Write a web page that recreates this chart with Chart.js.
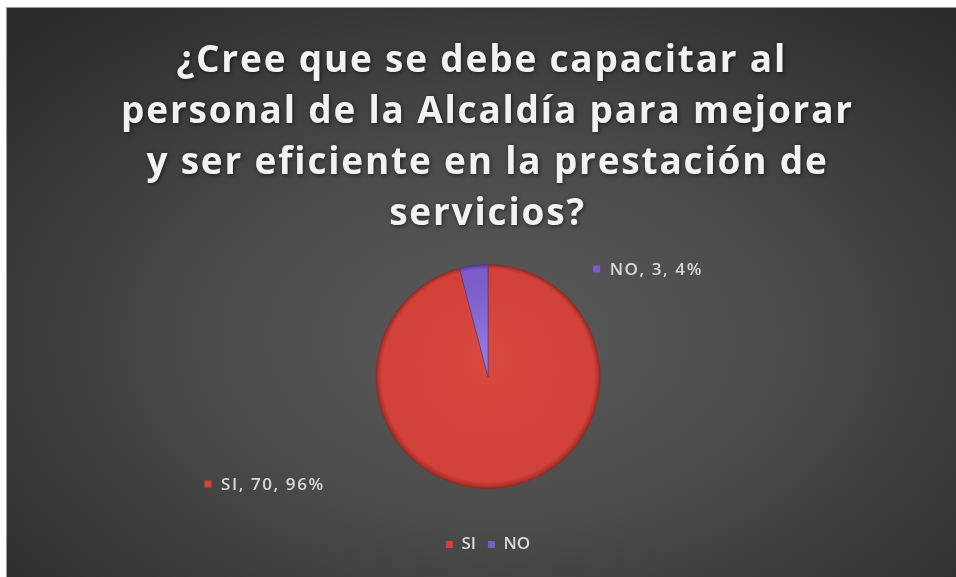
<!DOCTYPE html>
<html>
<head>
<meta charset="utf-8">
<script src="https://cdn.jsdelivr.net/npm/chart.js@4/dist/chart.umd.min.js"></script>
<style>
  html, body { margin: 0; padding: 0; background: #ffffff; }
  #frame {
    position: absolute; left: 6px; top: 7px; width: 950px; height: 570px;
    box-sizing: border-box; border-left: 1px solid #9a9a9a; border-top: 1px solid #9a9a9a;
    background: radial-gradient(ellipse 70% 75% at 52% 58%, #5b5b5b 0%, #4a4a4a 45%, #363636 80%, #2c2c2c 100%);
  }
  #wrap { position: absolute; left: 0; top: 0; width: 949px; height: 569px; }
</style>
</head>
<body>
<div id="frame"><div id="wrap"><canvas id="c"></canvas></div></div>
<script>
// Survey answers
const categories = ['SI', 'NO'];
const counts = [70, 3];
const titleLines = [
  '¿Cree que se debe capacitar al ',
  'personal de la Alcaldía para mejorar',
  'y ser eficiente en la prestación de',
  'servicios?'
];

const solidColors = ['#d2413a', '#7b5cc8'];
const rimColors = ['#9c2a24', '#553b99'];
const lightColors = ['#d8493f', '#9579dd'];

const total = counts.reduce((a, b) => a + b, 0);
const percentOf = v => Math.round(v / total * 100);

// Shaded fill for each slice: flat face with a darker rim
function sliceFill(ctx) {
  const chart = ctx.chart;
  const area = chart.chartArea;
  if (!area) return solidColors[ctx.dataIndex];
  const el = chart.getDatasetMeta(0).data[ctx.dataIndex];
  const cx = (area.left + area.right) / 2;
  const cy = (area.top + area.bottom) / 2;
  const r = el && el.outerRadius ? el.outerRadius : 112;
  const g = chart.ctx.createRadialGradient(cx, cy - r * 0.2, 0, cx, cy, r);
  const i = ctx.dataIndex;
  g.addColorStop(0, lightColors[i]);
  g.addColorStop(0.8, solidColors[i]);
  g.addColorStop(0.95, solidColors[i]);
  g.addColorStop(1, rimColors[i]);
  return g;
}

// Multi-line spaced title
const titlePlugin = {
  id: 'spacedTitle',
  beforeDraw(chart) {
    const c = chart.ctx;
    c.save();
    c.font = 'bold 37px "Open Sans"';
    c.fillStyle = '#f2f2f2';
    c.textAlign = 'center';
    c.textBaseline = 'alphabetic';
    if ('letterSpacing' in c) c.letterSpacing = '1.8px';
    c.shadowColor = 'rgba(0,0,0,0.6)';
    c.shadowBlur = 4;
    c.shadowOffsetX = 1;
    c.shadowOffsetY = 1;
    const mid = chart.width / 2 + 6;
    titleLines.forEach((line, k) => {
      c.fillText(line, mid, 64 + k * 51);
    });
    c.restore();
  }
};

// Category, value and percentage labels beside the pie
const labelOffsets = [[-2.5, 0.96], [0.97, -0.96]];
const valueLabelPlugin = {
  id: 'valueLabels',
  afterDatasetsDraw(chart) {
    const meta = chart.getDatasetMeta(0);
    const c = chart.ctx;
    c.save();
    c.font = '600 17px "Open Sans"';
    if ('letterSpacing' in c) c.letterSpacing = '1.6px';
    c.textBaseline = 'middle';
    c.textAlign = 'left';
    meta.data.forEach((arc, i) => {
      const r = arc.outerRadius;
      const x = arc.x + labelOffsets[i][0] * r;
      const y = arc.y + labelOffsets[i][1] * r;
      c.fillStyle = solidColors[i];
      c.fillRect(x - 3.5, y - 3.5, 7, 7);
      c.fillStyle = '#d9d9d9';
      c.fillText(categories[i] + ', ' + counts[i] + ', ' + percentOf(counts[i]) + '%', x + 13, y + 1);
    });
    c.restore();
  }
};

new Chart(document.getElementById('c'), {
  type: 'pie',
  data: {
    labels: categories,
    datasets: [{
      data: counts,
      backgroundColor: sliceFill,
      borderColor: ['#8e2822', '#4f3794'],
      borderWidth: 0.6,
      radius: 112
    }]
  },
  options: {
    responsive: true,
    maintainAspectRatio: false,
    animation: false,
    rotation: 0,
    layout: { padding: { top: 221, bottom: 14, left: 13, right: 0 } },
    plugins: {
      title: { display: false },
      tooltip: { enabled: false },
      legend: {
        position: 'bottom',
        labels: {
          color: '#d9d9d9',
          font: { family: '"Open Sans"', size: 17, weight: '600' },
          usePointStyle: true,
          pointStyle: 'rect',
          boxWidth: 7,
          boxHeight: 7,
          padding: 12,
          generateLabels: () => categories.map((name, i) => ({
            text: name,
            fillStyle: solidColors[i],
            strokeStyle: solidColors[i],
            lineWidth: 0,
            pointStyle: 'rect',
            fontColor: '#d9d9d9',
            hidden: false,
            index: i
          }))
        }
      }
    }
  },
  plugins: [titlePlugin, valueLabelPlugin]
});
</script>
</body>
</html>
